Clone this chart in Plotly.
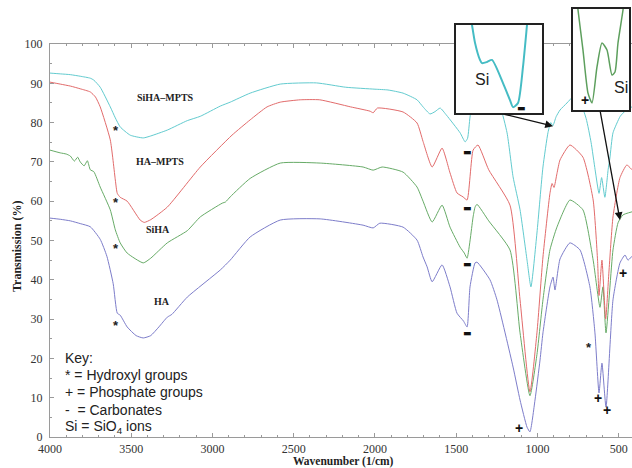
import plotly.graph_objects as go

# ---------------- data (wavenumber in 1/cm, transmission in %) ----------------
siha_mpts_wn = [4000, 3937, 3875, 3814, 3752, 3730, 3691, 3629, 3598, 3568, 3506, 3426, 3380, 3278, 3155,
                3075, 2952, 2891, 2768, 2583, 2360, 2180, 2000, 1920, 1827, 1741, 1704, 1661, 1630, 1599,
                1560, 1476, 1445, 1430, 1415, 1396, 1360, 1300, 1230, 1187, 1150, 1107, 1064, 1040, 1003,
                966, 935, 918, 905, 885, 861, 818, 781, 740, 700, 670, 645, 621, 605, 585,
                565, 554, 535, 492, 474, 443, 418]
siha_mpts_t = [92.6, 92.4, 92.2, 91.8, 91.3, 90.8, 89.0, 84.0, 81.2, 78.9, 76.8, 76.1, 76.6, 78.1, 80.5,
               81.6, 84.2, 85.2, 87.5, 89.8, 90.1, 89.0, 88.5, 88.3, 87.5, 85.8, 84.0, 82.2, 82.8, 83.7,
               81.9, 77.4, 75.1, 76.0, 81.4, 85.8, 88.0, 87.5, 84.0, 77.4, 66.2, 57.8, 45.0, 38.2, 51.9,
               68.7, 77.5, 80.0, 79.2, 81.5, 83.2, 85.0, 86.5, 85.5, 81.0, 75.0, 68.0, 62.0, 66.0, 61.0,
               68.0, 71.0, 77.4, 81.5, 82.4, 83.5, 84.0]

ha_mpts_wn = [4000, 3937, 3875, 3814, 3752, 3720, 3691, 3629, 3598, 3586, 3568, 3525, 3445, 3420, 3380,
              3278, 3075, 2880, 2768, 2664, 2583, 2460, 2340, 2150, 2030, 2011, 1985, 1827, 1741, 1704,
              1648, 1587, 1538, 1495, 1458, 1433, 1396, 1366, 1300, 1169, 1107, 1046, 1003, 966, 923,
              910, 898, 880, 861, 800, 720, 657, 630, 621, 603, 580, 560, 535, 492, 450, 418]
ha_mpts_t = [90.3, 89.8, 89.3, 88.6, 87.8, 86.5, 84.0, 75.6, 65.4, 62.0, 61.0, 60.0, 55.2, 54.6, 55.3,
             58.5, 68.7, 76.8, 80.7, 84.0, 85.2, 85.8, 85.8, 84.0, 82.9, 82.5, 83.7, 82.7, 79.9, 75.2,
             68.7, 73.5, 67.2, 62.1, 61.1, 60.3, 73.0, 74.3, 68.0, 59.0, 34.9, 11.5, 26.5, 45.8, 62.0,
             64.5, 63.5, 67.0, 70.5, 74.3, 71.2, 60.3, 45.0, 36.0, 45.0, 30.0, 42.0, 56.0, 66.0, 69.2, 68.0]

siha_wn = [4000, 3937, 3900, 3875, 3850, 3830, 3814, 3790, 3770, 3752, 3730, 3691, 3629, 3598, 3568,
           3525, 3426, 3380, 3278, 3155, 3075, 2940, 2920, 2891, 2768, 2583, 2337, 2073, 2011, 1956,
           1827, 1741, 1704, 1648, 1587, 1538, 1476, 1450, 1433, 1396, 1384, 1372, 1300, 1169, 1107,
           1046, 1003, 966, 923, 880, 800, 720, 657, 615, 597, 578, 535, 504, 474, 418]
siha_t = [73.0, 72.3, 72.0, 71.5, 70.2, 71.2, 70.0, 69.0, 70.3, 68.0, 67.5, 63.6, 57.8, 52.7, 49.4,
          46.8, 44.3, 45.5, 49.4, 52.5, 56.0, 59.5, 59.8, 61.1, 65.8, 69.7, 69.7, 68.7, 67.9, 68.7,
          67.4, 63.6, 60.0, 54.7, 59.0, 53.4, 48.3, 46.8, 45.5, 56.0, 58.5, 59.2, 55.0, 47.6, 26.5,
          10.5, 21.0, 34.9, 47.6, 53.4, 60.3, 57.8, 45.0, 33.0, 38.2, 26.5, 47.6, 54.5, 56.5, 57.3]

ha_wn = [4000, 3937, 3875, 3814, 3752, 3691, 3650, 3611, 3586, 3568, 3525, 3470, 3426, 3380, 3330,
         3278, 3250, 3155, 2952, 2891, 2768, 2583, 2337, 2073, 2011, 1970, 1827, 1741, 1704, 1679,
         1648, 1587, 1538, 1495, 1455, 1433, 1415, 1384, 1372, 1292, 1249, 1150, 1107, 1064, 1046,
         1015, 984, 966, 923, 904, 892, 861, 800, 738, 677, 646, 621, 603, 578, 535,
         492, 461, 443, 418]
ha_t = [55.7, 55.4, 55.0, 54.3, 53.5, 50.3, 46.0, 39.0, 31.5, 31.0, 28.0, 25.8, 25.2, 25.8, 28.0,
        30.5, 31.2, 35.6, 42.5, 45.0, 50.9, 55.2, 55.5, 53.9, 53.2, 54.4, 53.4, 50.1, 45.8, 43.3,
        39.5, 43.8, 38.2, 31.5, 29.5, 28.0, 38.2, 44.3, 44.5, 40.0, 34.9, 17.8, 9.4, 2.5, 1.3,
        9.4, 19.6, 26.5, 38.2, 40.7, 37.4, 45.3, 49.4, 47.6, 38.2, 26.5, 11.2, 18.8, 7.6, 34.9,
        44.3, 46.3, 45.0, 46.0]

# magnified insets
inset_si_wn = [971.7, 966.5, 960.2, 949.8, 945.6, 935.1, 924.7, 901.6, 887.0, 880.7, 870.2, 859.8, 851.4, 848.5]
inset_si_t = [95.0, 90.0, 83.9, 78.1, 77.0, 77.4, 78.1, 70.2, 64.4, 62.0, 63.4, 75.7, 90.0, 95.0]
inset_p_wn = [607.1, 603.9, 587.9, 571.8, 558.9, 542.9, 526.8, 510.7, 494.6, 485.0, 475.4, 459.3, 456.1]
inset_p_t = [62.7, 59.7, 47.8, 35.0, 32.1, 42.8, 49.9, 47.8, 40.4, 41.3, 49.9, 59.7, 62.7]

x_ticks = [4000, 3500, 3000, 2500, 2000, 1500, 1000, 500]
y_ticks = [0, 10, 20, 30, 40, 50, 60, 70, 80, 90, 100]

# ---------------- figure ----------------
W, H = 632, 468
ML, MR, MT, MB = 50, 0, 0, 31
PW, PH = W - ML - MR, H - MT - MB          # paper area in px
PLOT_TOP = 44                              # px where 100 % sits


def dx(px):
    return (px - ML) / PW


def dy(py):
    return (H - MB - py) / PH


fig = go.Figure()
series = [
    (ha_wn, ha_t, "#7d7dca"),
    (siha_wn, siha_t, "#67ab67"),
    (ha_mpts_wn, ha_mpts_t, "#e26b6b"),
    (siha_mpts_wn, siha_mpts_t, "#62cbcf"),
]
for wn, t, col in series:
    fig.add_trace(go.Scatter(x=wn, y=t, mode="lines",
                             line=dict(color=col, width=1, shape="spline", smoothing=0.5),
                             showlegend=False, hoverinfo="skip"))

fig.add_trace(go.Scatter(x=inset_si_wn, y=inset_si_t, xaxis="x2", yaxis="y2", mode="lines",
                         line=dict(color="#45bcc4", width=2, shape="spline", smoothing=0.6),
                         showlegend=False, hoverinfo="skip"))
fig.add_trace(go.Scatter(x=inset_p_wn, y=inset_p_t, xaxis="x3", yaxis="y3", mode="lines",
                         line=dict(color="#5d9f5d", width=1.5, shape="spline", smoothing=0.6),
                         showlegend=False, hoverinfo="skip"))

serif = "Liberation Serif"
sans = "Liberation Sans"
axcol = "#9a9a9a"

inset_axis = dict(showline=True, mirror=True, linecolor="#222", linewidth=1.5, automargin=False,
                  showticklabels=False, ticks="", showgrid=False, zeroline=False)

fig.update_layout(
    width=W, height=H,
    margin=dict(l=ML, r=MR, t=MT, b=MB, pad=0, autoexpand=False),
    paper_bgcolor="white", plot_bgcolor="white",
    xaxis=dict(domain=[0, 1], range=[4000, 418], tickvals=x_ticks, automargin=False,
               showline=True, linecolor=axcol, linewidth=1, mirror="ticks",
               ticks="inside", ticklen=4, tickcolor=axcol,
               minor=dict(dtick=100, tick0=0, ticks="inside", ticklen=2, tickcolor=axcol),
               showgrid=False, zeroline=False, ticklabelstandoff=1,
               tickfont=dict(family=serif, size=12, color="#333")),
    yaxis=dict(domain=[0, dy(PLOT_TOP)], range=[0, 100], tickvals=y_ticks, automargin=False,
               showline=True, linecolor=axcol, linewidth=1,
               ticks="inside", ticklen=4, tickcolor=axcol,
               minor=dict(dtick=5, tick0=0, ticks="inside", ticklen=2, tickcolor=axcol),
               showgrid=False, zeroline=False, ticklabelstandoff=4,
               tickfont=dict(family=serif, size=12, color="#333")),
    xaxis2=dict(domain=[dx(456), dx(542)], range=[1000, 820], anchor="y2", **inset_axis),
    yaxis2=dict(domain=[dy(113), dy(25)], range=[60, 90], anchor="x2", **inset_axis),
    xaxis3=dict(domain=[dx(573), dx(629)], range=[620, 440], anchor="y3", **inset_axis),
    yaxis3=dict(domain=[dy(110), dy(9)], range=[30, 60], anchor="x3", **inset_axis),
)

ann = []
# axis titles
ann.append(dict(text="<b>Wavenumber (1/cm)</b>", x=dx(343), y=dy(462), xref="paper", yref="paper",
                xanchor="center", yanchor="middle",
                showarrow=False, font=dict(family=serif, size=11.5, color="#222")))
ann.append(dict(text="<b>Transmission (%)</b>", x=dx(17), y=dy(247), xref="paper", yref="paper",
                xanchor="center", yanchor="middle",
                textangle=-90, showarrow=False, font=dict(family=serif, size=12, color="#222")))

# curve labels
for txt, x, y in [("SiHA–MPTS", 3291, 86.5), ("HA–MPTS", 3322, 70.0),
                  ("SiHA", 3334, 52.7), ("HA", 3309, 34.6)]:
    ann.append(dict(text="<b>" + txt + "</b>", x=x, y=y, xref="x", yref="y", showarrow=False,
                    xanchor="center", yanchor="middle",
                    font=dict(family=serif, size=10, color="#222")))

# hydroxyl stars
for x, y in [(3591, 78.9), (3591, 60.8), (3591, 48.9), (3591, 29.3), (683, 23.9)]:
    ann.append(dict(text="<b>*</b>", x=x, y=y, xref="x", yref="y", showarrow=False, yshift=-4,
                    xanchor="center", yanchor="middle",
                    font=dict(family=sans, size=13, color="#222")))

# carbonate dashes
for x, y in [(1433, 72.5), (1433, 58.3), (1433, 44.0), (1433, 26.5)]:
    ann.append(dict(text="▬", x=x, y=y, xref="x", yref="y", showarrow=False,
                    xanchor="center", yanchor="middle",
                    font=dict(family="DejaVu Sans", size=9, color="#111")))

# phosphate plus signs
for x, y in [(1113, 2.3), (627, 9.9), (571, 6.9), (474, 41.7)]:
    ann.append(dict(text="<b>+</b>", x=x, y=y, xref="x", yref="y", showarrow=False,
                    xanchor="center", yanchor="middle",
                    font=dict(family=sans, size=14, color="#111")))

# inset labels
ann.append(dict(text="Si", x=945, y=71.3, xref="x2", yref="y2", showarrow=False,
                xanchor="center", yanchor="middle",
                font=dict(family=sans, size=16, color="#222")))
ann.append(dict(text="▬", x=862, y=61.7, xref="x2", yref="y2", showarrow=False,
                xanchor="center", yanchor="middle",
                font=dict(family="DejaVu Sans", size=9, color="#111")))
ann.append(dict(text="<b>+</b>", x=581, y=33.0, xref="x3", yref="y3", showarrow=False,
                xanchor="center", yanchor="middle",
                font=dict(family=sans, size=14, color="#111")))
ann.append(dict(text="Si", x=466, y=36.8, xref="x3", yref="y3", showarrow=False,
                xanchor="center", yanchor="middle",
                font=dict(family=sans, size=16, color="#222")))

# arrows from insets
ann.append(dict(text="", x=904, y=79.1, ax=1212, ay=82.2, xref="x", yref="y", axref="x", ayref="y",
                showarrow=True, arrowhead=2, arrowsize=1.2, arrowwidth=1.3, arrowcolor="#111"))
ann.append(dict(text="", x=492, y=55.2, ax=615, ay=83.2, xref="x", yref="y", axref="x", ayref="y",
                showarrow=True, arrowhead=2, arrowsize=1.2, arrowwidth=1.3, arrowcolor="#111"))

# key
key_lines = ["Key:", "* = Hydroxyl groups", "+ = Phosphate groups", "-\u00a0 = Carbonates",
             "Si = SiO<sub>4</sub> ions"]
for i, line in enumerate(key_lines):
    ann.append(dict(text=line, x=dx(63), y=dy(358 + 17.2 * i), xref="paper", yref="paper",
                    xanchor="left", yanchor="middle", showarrow=False,
                    font=dict(family=sans, size=14, color="#222")))

fig.update_layout(annotations=ann)
fig.write_html("out.html", config={"displayModeBar": False},
               post_script="document.body.style.margin='0';document.body.style.padding='0';"
                           "document.body.style.overflow='hidden';")
